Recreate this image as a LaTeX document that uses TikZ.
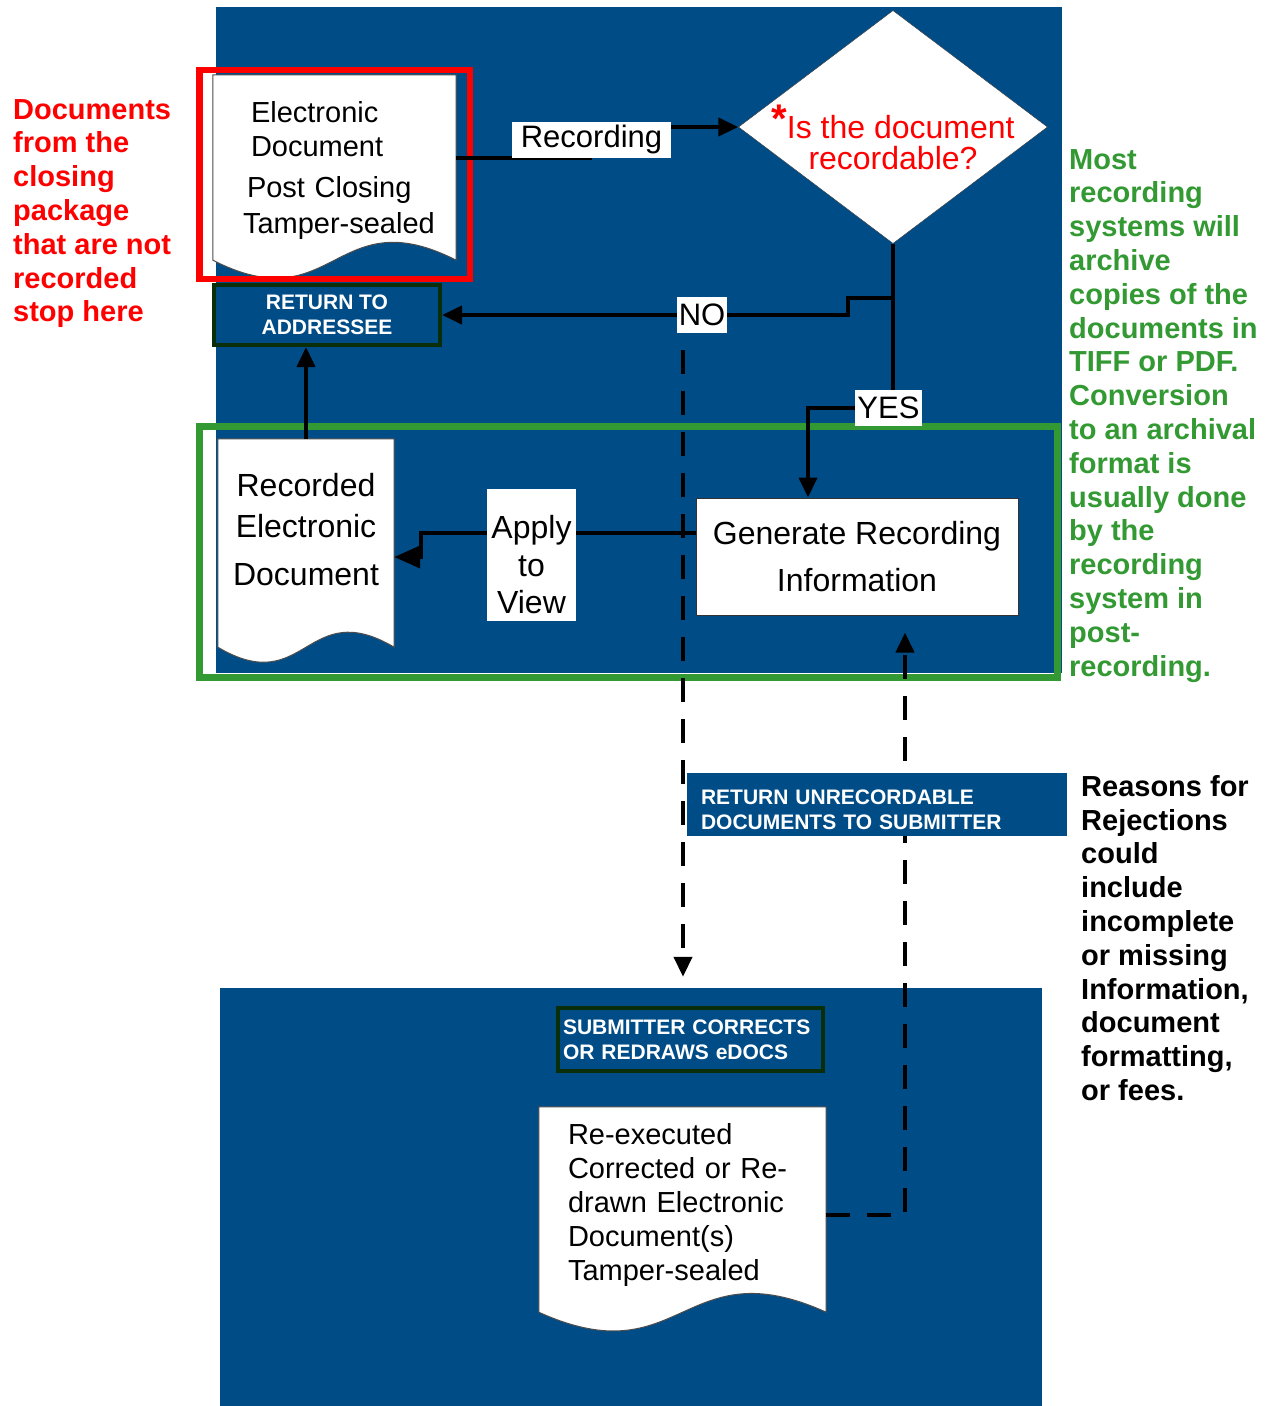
\documentclass[tikz,border=0pt]{standalone}
\usepackage{fontspec}
\setmainfont{Liberation Sans}
\usetikzlibrary{shapes.geometric,arrows.meta,calc}
\pgfdeclarelayer{back}
\pgfdeclarelayer{paper}
\pgfsetlayers{back,paper,main}
\definecolor{panelblue}{RGB}{0,76,135}
\definecolor{notegreen}{RGB}{51,153,51}
\definecolor{boxedge}{RGB}{10,45,10}
% sheet with a wavy lower edge, put behind node #1
\newcommand{\docshape}[2]{%
  \begin{pgfonlayer}{paper}
  \filldraw[fill=white,draw=black!70,line width=1pt] (#1.north west) -- (#1.north east) -- (#1.south east)
    .. controls ($(#1.south)+(0,-#2)$) and ($(#1.south)+(0,#2)$) .. (#1.south west) -- cycle;
  \end{pgfonlayer}}

\begin{document}
\begin{tikzpicture}[x=1pt,y=-1pt,
panel/.style={fill=panelblue,inner sep=0pt},
paperdoc/.style={inner sep=0pt,align=center},
procbox/.style={draw=black!80,line width=1pt,fill=white,inner sep=0pt,align=center},
decision/.style={diamond,draw=black!80,fill=white,inner sep=0pt,aspect=1.33},
darkbox/.style={draw=boxedge,line width=4pt,fill=panelblue,text=white,inner sep=0pt,font=\fontsize{21}{25}\selectfont\bfseries},
lab/.style={fill=white,inner xsep=2pt,inner ysep=0pt,minimum height=36pt,font=\fontsize{31}{37}\selectfont},
flow/.style={line width=4pt,-{Triangle[length=20pt,width=18pt]}},
dashflow/.style={flow,dash pattern=on 24pt off 17pt},
note/.style={anchor=north west,inner sep=0pt,align=left,font=\fontsize{29}{33.8}\selectfont\bfseries}]
\useasboundingbox (0,0) rectangle (1270,1406);

\begin{pgfonlayer}{back}
\node[panel,minimum width=846pt,minimum height=666pt] (toppanel) at (639,340) {};
\node[panel,minimum width=822pt,minimum height=418pt] (lowpanel) at (631,1197) {};
\end{pgfonlayer}

% documents
\node[paperdoc,align=left,text width=183pt,inner xsep=30pt,minimum height=185pt,text height=27pt,font=\fontsize{29}{34}\selectfont] (edoc) at (334.5,167.5)
  {\hspace*{8pt}Electronic\\\hspace*{8pt}Document\\[7pt]\hspace*{4pt}Post Closing\\[2pt]\mbox{Tamper-sealed}};
\docshape{edoc}{62}
\node[paperdoc,minimum width=176pt,minimum height=208pt,text depth=28pt,font=\fontsize{32}{41}\selectfont] (recdoc) at (306,543)
  {Recorded\\Electronic\\[7pt]Document};
\docshape{recdoc}{52}
\node[paperdoc,align=left,text width=229pt,inner xsep=29pt,minimum height=205pt,text depth=151pt,font=\fontsize{29}{34}\selectfont] (redoc) at (682.5,1209.5)
  {Re-executed\\Corrected or Re-\\drawn Electronic\\Document(s)\\Tamper-sealed};
\docshape{redoc}{65}

% steps
\node[decision,minimum width=309pt,minimum height=233pt] (dia) at (893,127) {};
\node[text=red,align=center,font=\fontsize{32}{31}\selectfont] (diaq) at ([yshift=-10pt]dia.center)
  {{\raisebox{6pt}{\fontsize{40}{40}\selectfont\bfseries *}}Is the document\\recordable?};
\node[procbox,minimum width=322pt,minimum height=117pt,font=\fontsize{32}{38}\selectfont] (gen) at (857,556.5)
  {Generate Recording\\[9pt]Information};
\node[darkbox,align=center,minimum width=226pt,minimum height=60pt] (retaddr) at (327,315) {RETURN TO\\ADDRESSEE};

% frames
\draw[red,line width=6.5pt] (199.5,70) rectangle (470,279);
\draw[notegreen,line width=7pt] (199,426) rectangle (1057,677);

% connectors
\coordinate (recbend) at (590,157.5);
\coordinate (nobend) at (848,298);
\coordinate (yesbend) at (808,408);
\coordinate (applybend) at (421,533);
\draw[flow] (edoc.east |- recbend) -- (recbend) |- (dia.west);
\draw[flow] (dia.south) |- (nobend) |- (retaddr.east);
\draw[flow] (dia.south) |- (yesbend) -- (yesbend |- gen.north);
\draw[flow,-{Triangle[length=26pt,width=22pt]}] ([yshift=23.5pt]gen.west) -- (applybend) |- ([yshift=-14pt]recdoc.east);
\draw[flow] (recdoc.north) -- (recdoc.north |- retaddr.south);
\node[lab,minimum width=159pt] (reclab) at (591.5,139.5) {Recording};
\node[lab] (nolab) at (702,315) {NO};
\node[lab] (yeslab) at (888.5,407.5) {YES};
\node[lab,align=center,minimum width=89pt,minimum height=132pt,text height=118pt,font=\fontsize{32}{37.5}\selectfont] (applab) at (531.5,555) {Apply\\to\\View};
\draw[dashflow,dash phase=24pt,shorten >=11pt] ([xshift=-19pt]nolab.south) -- ([xshift=-19pt]nolab.south |- lowpanel.north);
\draw[dashflow,shorten >=17pt] ([yshift=-5.5pt]redoc.east) -| ([xshift=48pt]gen.south);

\node[darkbox,draw=none,align=left,text width=352pt,inner xsep=14pt,minimum height=63pt,text height=25pt] (retsub) at (877,804.5)
  {RETURN UNRECORDABLE\\DOCUMENTS TO SUBMITTER};
\node[darkbox,align=left,text width=255pt,inner xsep=5pt,minimum height=63pt] (subcor) at (690.5,1039.5)
  {SUBMITTER CORRECTS\\OR REDRAWS eDOCS};

% side notes
\node[note,text=red] (stopnote) at (13,99) {Documents\\from the\\closing\\package\\that are not\\recorded\\stop here};
\node[note,text=notegreen] (archnote) at (1069,149) {Most\\recording\\systems will\\archive\\copies of the\\documents in\\TIFF or PDF.\\Conversion\\to an archival\\format is\\usually done\\by the\\recording\\system in\\post-\\recording.};
\node[note] (rejnote) at (1081,775) {Reasons for\\Rejections\\could\\include\\incomplete\\or missing\\Information,\\document\\formatting,\\or fees.};
\end{tikzpicture}
\end{document}
